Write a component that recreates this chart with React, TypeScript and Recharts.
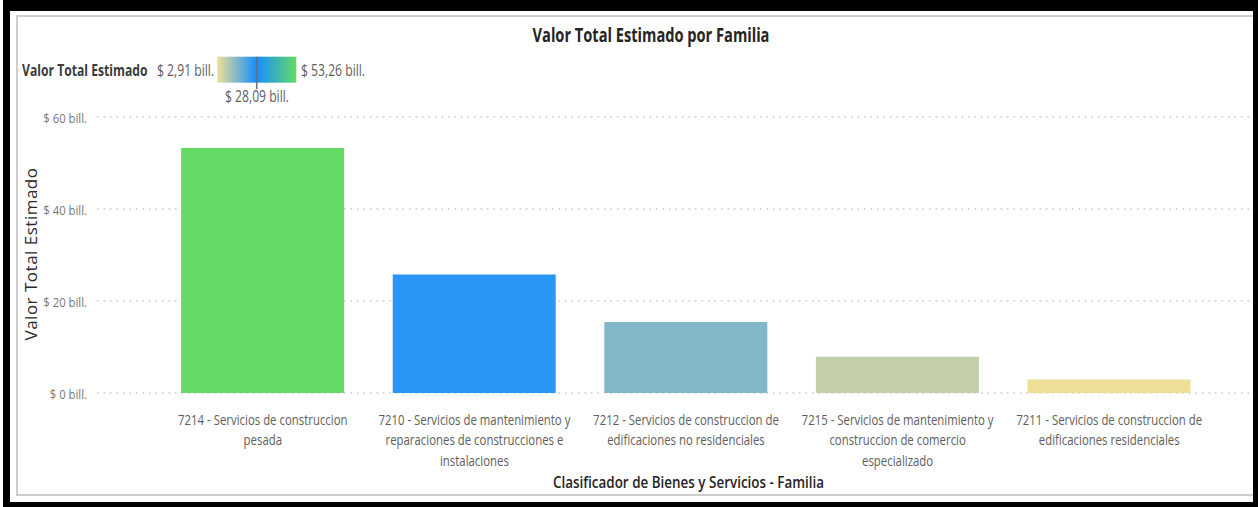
import React from 'react';
import { BarChart, Bar, XAxis, YAxis, CartesianGrid, Cell } from 'recharts';

// ---- data ----
const categories = [
  '7214 - Servicios de construccion pesada',
  '7210 - Servicios de mantenimiento y reparaciones de construcciones e instalaciones',
  '7212 - Servicios de construccion de edificaciones no residenciales',
  '7215 - Servicios de mantenimiento y construccion de comercio especializado',
  '7211 - Servicios de construccion de edificaciones residenciales',
];
const valores = [53.26, 25.78, 15.42, 7.88, 2.91];
const yTicks = [0, 20, 40, 60];
const legendLabels = ['$ 2,91 bill.', '$ 28,09 bill.', '$ 53,26 bill.'];
const chartTitle = 'Valor Total Estimado por Familia';
const legendTitle = 'Valor Total Estimado';
const yTitle = 'Valor Total Estimado';
const xTitle = 'Clasificador de Bienes y Servicios - Familia';

const data = categories.map((name, i) => ({ name, valor: valores[i] }));

// ---- styles ----
const FONT = "'Open Sans', 'Noto Sans', sans-serif";
const gradientColors = ['#EEDF96', '#158EFF', '#64DA64'];

const hexToRgb = (h: string) => [1, 3, 5].map((k) => parseInt(h.slice(k, k + 2), 16));
const mix = (a: string, b: string, t: number) => {
  const A = hexToRgb(a);
  const B = hexToRgb(b);
  const c = A.map((v, i) => Math.round(v + (B[i] - v) * t));
  return `rgb(${c[0]},${c[1]},${c[2]})`;
};
const vMin = Math.min(...valores);
const vMax = Math.max(...valores);
const colorFor = (v: number) => {
  const t = (v - vMin) / (vMax - vMin);
  if (t <= 0.5) return mix(gradientColors[0], gradientColors[1], t * 2);
  return mix(gradientColors[1], gradientColors[2], (t - 0.5) * 2);
};

const wrap = (s: string, maxChars: number) => {
  const words = s.split(' ');
  const lines: string[] = [];
  let cur = '';
  for (const w of words) {
    const next = cur ? cur + ' ' + w : w;
    if (next.length > maxChars && cur) {
      lines.push(cur);
      cur = w;
    } else cur = next;
  }
  if (cur) lines.push(cur);
  return lines;
};

const XTick = (props: any) => {
  const { x, y, payload } = props;
  const lines = wrap(String(payload.value), 36);
  return (
    <g transform={`translate(${x},${y})`}>
      <g transform="scale(0.76,1)">
        {lines.map((l, i) => (
          <text key={i} x={0} y={32 + i * 20.3} textAnchor="middle" fontFamily={FONT} fontSize={15} fill="#605E5C">
            {l}
          </text>
        ))}
      </g>
    </g>
  );
};

const YTick = (props: any) => {
  const { x, y, payload } = props;
  return (
    <g transform={`translate(${x},${y}) scale(0.87,1)`}>
      <text x={0} y={5.5} textAnchor="end" fontFamily={FONT} fontSize={13} fill="#777777">
        {`$ ${payload.value} bill.`}
      </text>
    </g>
  );
};

const SText = ({ x, y, sx = 1, anchor = 'start', size, weight = 400, fill, children }: any) => (
  <g transform={`translate(${x},${y}) scale(${sx},1)`}>
    <text x={0} y={0} textAnchor={anchor} fontFamily={FONT} fontSize={size} fontWeight={weight} fill={fill}>
      {children}
    </text>
  </g>
);

export default function App() {
  return (
    <div style={{ position: 'absolute', left: 0, top: 0, width: 1258, height: 507, background: '#fff' }}>
      <div style={{ position: 'absolute', left: 3, top: 0, width: 1255, height: 507, background: '#000' }} />
      <div style={{ position: 'absolute', left: 10, top: 11, width: 1243, height: 491, background: '#fff' }} />
      <div
        style={{
          position: 'absolute',
          left: 16,
          top: 15,
          width: 1237,
          height: 481,
          boxSizing: 'border-box',
          borderTop: '2px solid #cdcdcd',
          borderLeft: '2px solid #cdcdcd',
          borderBottom: '2px solid #cdcdcd',
        }}
      />
      <div style={{ position: 'absolute', left: 0, top: 0 }}>
        <BarChart
          width={1258}
          height={507}
          data={data}
          margin={{ top: 117, right: 8, bottom: 54, left: 17 }}
          barCategoryGap="11.4%"
        >
          <CartesianGrid vertical={false} stroke="#c8c8c8" strokeWidth={1.5} strokeDasharray="1.5 5" />
          <XAxis
            dataKey="name"
            interval={0}
            tickLine={false}
            axisLine={false}
            tickSize={0}
            tickMargin={0}
            height={60}
            padding={{ left: 60, right: 35 }}
            tick={<XTick />}
          />
          <YAxis
            domain={[0, 60]}
            ticks={yTicks}
            width={80}
            tickLine={false}
            axisLine={false}
            tickSize={0}
            tickMargin={10}
            tick={<YTick />}
          />
          <Bar dataKey="valor" isAnimationActive={false}>
            {data.map((d, i) => (
              <Cell key={i} fill={colorFor(d.valor)} />
            ))}
          </Bar>
        </BarChart>
      </div>
      <svg width={1258} height={507} style={{ position: 'absolute', left: 0, top: 0, pointerEvents: 'none' }}>
        <defs>
          <linearGradient id="lg" x1="0" x2="1" y1="0" y2="0">
            <stop offset="0%" stopColor={gradientColors[0]} />
            <stop offset="50%" stopColor={gradientColors[1]} />
            <stop offset="100%" stopColor={gradientColors[2]} />
          </linearGradient>
        </defs>
        <SText x={651} y={41.5} sx={0.77} anchor="middle" size={19} weight={700} fill="#252423">
          {chartTitle}
        </SText>
        <SText x={22} y={76} sx={0.76} size={16} weight={700} fill="#3b3b3b">
          {legendTitle}
        </SText>
        <SText x={157} y={76} sx={0.76} size={16} fill="#605E5C">
          {legendLabels[0]}
        </SText>
        <rect x={217.3} y={56.7} width={79} height={26} fill="url(#lg)" />
        <line x1={256.7} x2={256.7} y1={56.7} y2={89} stroke="#5f6f86" strokeWidth={1.5} />
        <SText x={301} y={76} sx={0.76} size={16} fill="#605E5C">
          {legendLabels[2]}
        </SText>
        <SText x={257} y={101.5} sx={0.76} anchor="middle" size={16} fill="#605E5C">
          {legendLabels[1]}
        </SText>
        <g transform="translate(37,254) rotate(-90)">
          <text x={0} y={0} textAnchor="middle" fontFamily={FONT} fontSize={17} letterSpacing={0.5} fill="#2b2b2b">
            {yTitle}
          </text>
        </g>
        <SText x={688.5} y={488} sx={0.84} anchor="middle" size={16} weight={600} fill="#252423">
          {xTitle}
        </SText>
      </svg>
    </div>
  );
}
